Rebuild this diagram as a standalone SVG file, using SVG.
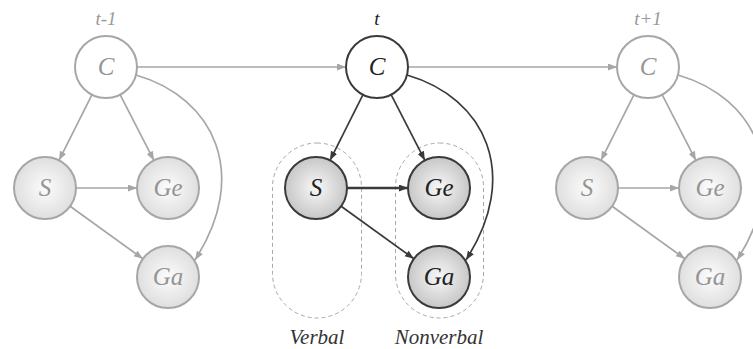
<svg xmlns="http://www.w3.org/2000/svg" width="753" height="349" viewBox="0 0 753 349">
  <defs>
    <radialGradient id="gLight" cx="50%" cy="50%" r="55%">
      <stop offset="0" stop-color="#fcfcfc"/>
      <stop offset="1" stop-color="#dcdcdc"/>
    </radialGradient>
    <radialGradient id="gDark" cx="50%" cy="50%" r="55%">
      <stop offset="0" stop-color="#f8f8f8"/>
      <stop offset="1" stop-color="#c2c2c2"/>
    </radialGradient>
    <marker id="arrG" markerUnits="userSpaceOnUse" markerWidth="10" markerHeight="8" refX="9" refY="3.5" orient="auto">
      <path d="M0,0 L9,3.5 L0,7 Z" fill="#a6a6a6"/>
    </marker>
    <marker id="arrD" markerUnits="userSpaceOnUse" markerWidth="10" markerHeight="8" refX="9" refY="3.5" orient="auto">
      <path d="M0,0 L9,3.5 L0,7 Z" fill="#3a3a3a"/>
    </marker>
  </defs>
  <style>
    text { font-family: "Liberation Serif", "DejaVu Serif", serif; font-style: italic; text-anchor: middle; }
    .nlab { font-size: 25px; }
    .tlab { font-size: 19px; fill: #999; }
    .glab { font-size: 21px; fill: #333; }
    .gray circle.c { fill: #fff; stroke: #a6a6a6; stroke-width: 2; }
    .gray circle.v { fill: url(#gLight); stroke: #a6a6a6; stroke-width: 2; }
    .gray text { fill: #959595; }
    .dark circle.c { fill: #fff; stroke: #3a3a3a; stroke-width: 2; }
    .dark circle.v { fill: url(#gDark); stroke: #3a3a3a; stroke-width: 2; }
    .dark text { fill: #222; }
    .eg { fill: none; stroke: #a6a6a6; stroke-width: 1.7; marker-end: url(#arrG); }
    .ed { fill: none; stroke: #3a3a3a; stroke-width: 1.7; marker-end: url(#arrD); }
    .grp { fill: none; stroke: #a8a8a8; stroke-width: 1; stroke-dasharray: 4 3; }
  </style>

  <rect width="753" height="349" fill="#fff"/>

  <!-- time labels -->
  <text class="tlab" x="106" y="25">t-1</text>
  <text class="tlab" x="377" y="25" style="fill:#222">t</text>
  <text class="tlab" x="648" y="25">t+1</text>

  <!-- group boxes -->
  <g id="verbal-group">
    <rect class="grp" x="272.5" y="143" width="89" height="175" rx="44.5" ry="44.5"/>
    <text class="glab" x="317" y="344">Verbal</text>
  </g>
  <g id="nonverbal-group">
    <rect class="grp" x="395.5" y="143" width="88" height="175" rx="44" ry="44"/>
    <text class="glab" x="439" y="344">Nonverbal</text>
  </g>

  <!-- connectors -->
  <g id="connectors">
    <path class="eg" d="M137,67 L346,67"/>
    <path class="eg" d="M408,67 L617,67"/>
    <g id="edges-t-1">
      <path class="eg" d="M92,94.7 L59,160.3"/>
      <path class="eg" d="M120.1,94.6 L153.9,160.4"/>
      <path class="eg" d="M76,188 L137,188"/>
      <path class="eg" d="M70.1,206.2 L142.9,258.8"/>
      <path class="eg" d="M136,75 C215,98 250,175 195,260"/>
    </g>
    <g id="edges-t" transform="translate(271,0)">
      <path class="ed" d="M92,94.7 L59,160.3"/>
      <path class="ed" d="M120.1,94.6 L153.9,160.4"/>
      <path class="ed" d="M76,188 L137,188" style="stroke-width:2.4"/>
      <path class="ed" d="M70.1,206.2 L142.9,258.8"/>
      <path class="ed" d="M136,75 C215,98 250,175 195,260"/>
    </g>
    <g id="edges-t+1" transform="translate(542,0)">
      <path class="eg" d="M92,94.7 L59,160.3"/>
      <path class="eg" d="M120.1,94.6 L153.9,160.4"/>
      <path class="eg" d="M76,188 L137,188"/>
      <path class="eg" d="M70.1,206.2 L142.9,258.8"/>
      <path class="eg" d="M136,75 C215,98 250,175 195,260"/>
    </g>
  </g>

  <!-- t-1 nodes -->
  <g class="gray">
    <g id="C-t-1"><circle class="c" cx="106" cy="67" r="31"/><text class="nlab" x="106" y="75">C</text></g>
    <g id="S-t-1"><circle class="v" cx="45" cy="188" r="31"/><text class="nlab" x="45" y="196">S</text></g>
    <g id="Ge-t-1"><circle class="v" cx="168" cy="188" r="31"/><text class="nlab" x="168" y="196">Ge</text></g>
    <g id="Ga-t-1"><circle class="v" cx="168" cy="277" r="31"/><text class="nlab" x="168" y="285">Ga</text></g>
  </g>

  <!-- t nodes -->
  <g class="dark">
    <g id="C-t"><circle class="c" cx="377" cy="67" r="31"/><text class="nlab" x="377" y="75">C</text></g>
    <g id="S-t"><circle class="v" cx="316" cy="188" r="31"/><text class="nlab" x="316" y="196">S</text></g>
    <g id="Ge-t"><circle class="v" cx="439" cy="188" r="31"/><text class="nlab" x="439" y="196">Ge</text></g>
    <g id="Ga-t"><circle class="v" cx="439" cy="277" r="31"/><text class="nlab" x="439" y="285">Ga</text></g>
  </g>

  <!-- t+1 nodes -->
  <g class="gray">
    <g id="C-t+1"><circle class="c" cx="648" cy="67" r="31"/><text class="nlab" x="648" y="75">C</text></g>
    <g id="S-t+1"><circle class="v" cx="587" cy="188" r="31"/><text class="nlab" x="587" y="196">S</text></g>
    <g id="Ge-t+1"><circle class="v" cx="710" cy="188" r="31"/><text class="nlab" x="710" y="196">Ge</text></g>
    <g id="Ga-t+1"><circle class="v" cx="710" cy="277" r="31"/><text class="nlab" x="710" y="285">Ga</text></g>
  </g>
</svg>
